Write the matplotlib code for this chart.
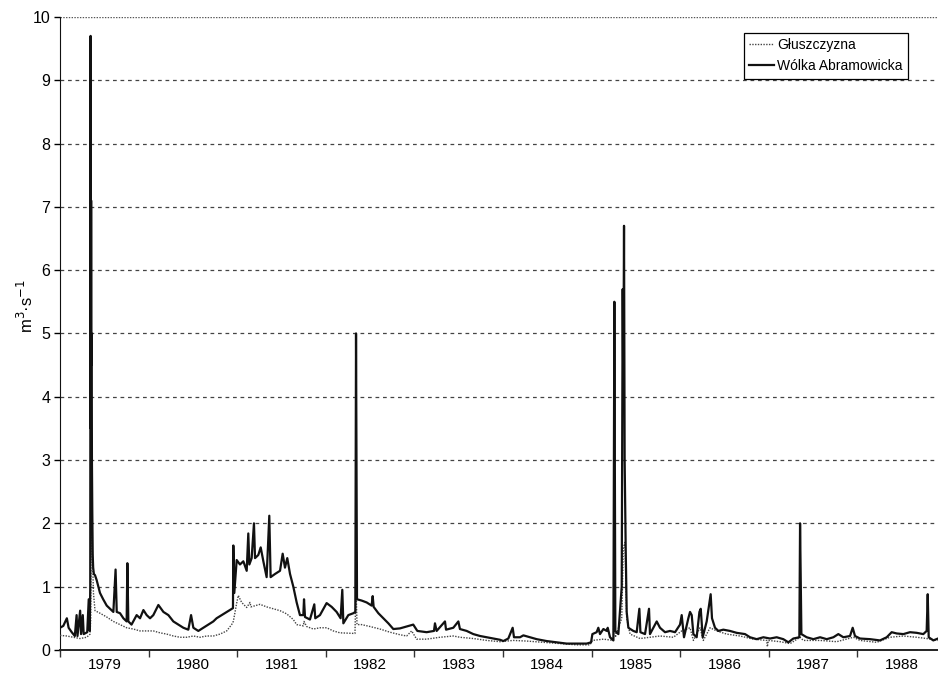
import matplotlib
matplotlib.use("Agg")
import matplotlib.pyplot as plt
import numpy as np

plt.rcParams['font.family'] = ['Liberation Sans', 'DejaVu Sans']

# time as decimal years (hydrological years start 1 Nov), discharge in m3/s
wolka_t = [1978.833, 1978.87, 1978.91, 1978.93, 1978.965, 1979.0, 1979.02, 1979.03,
           1979.06, 1979.07, 1979.09, 1979.10, 1979.14, 1979.157, 1979.168,
           1979.174, 1979.178, 1979.181, 1979.184, 1979.187, 1979.190, 1979.193,
           1979.197, 1979.202, 1979.207, 1979.215,
           1979.228, 1979.247, 1979.284, 1979.32, 1979.36, 1979.397, 1979.435,
           1979.46, 1979.473, 1979.51, 1979.548, 1979.585, 1979.593, 1979.604,
           1979.64, 1979.698, 1979.736, 1979.774, 1979.811, 1979.849, 1979.886,
           1979.943, 1980.0, 1980.056, 1980.112, 1980.169, 1980.225, 1980.281,
           1980.312, 1980.338, 1980.394, 1980.45, 1980.507, 1980.563, 1980.6,
           1980.657, 1980.714, 1980.75, 1980.785,
           1980.789, 1980.80, 1980.827, 1980.864, 1980.902, 1980.94, 1980.958,
           1980.97, 1980.996, 1981.022, 1981.034, 1981.071, 1981.098, 1981.128,
           1981.165, 1981.195, 1981.21, 1981.26, 1981.316, 1981.346, 1981.372,
           1981.398, 1981.429, 1981.466, 1981.504, 1981.541, 1981.579, 1981.587,
           1981.598, 1981.654, 1981.703, 1981.714, 1981.767, 1981.842, 1981.899,
           1981.955, 1982.0, 1982.019, 1982.031, 1982.087, 1982.144, 1982.166,
           1982.174, 1982.185, 1982.237, 1982.294, 1982.35, 1982.362, 1982.373,
           1982.426, 1982.482, 1982.539, 1982.595, 1982.67, 1982.745, 1982.82,
           1982.866, 1982.971, 1983.054, 1983.065, 1983.084, 1983.178, 1983.19,
           1983.272, 1983.329, 1983.347,
           1983.423, 1983.498, 1983.574, 1983.649, 1983.724, 1983.8, 1983.837,
           1983.893, 1983.942, 1983.957, 1984.025, 1984.063, 1984.138, 1984.213,
           1984.326, 1984.439, 1984.552, 1984.665, 1984.778, 1984.827, 1984.842,
           1984.89, 1984.909, 1984.928, 1984.966, 1985.004, 1985.015, 1985.041,
           1985.079, 1985.09, 1985.101, 1985.135, 1985.173, 1985.184, 1985.191,
           1985.199, 1985.206, 1985.218, 1985.229, 1985.248, 1985.304, 1985.342,
           1985.372, 1985.384, 1985.436, 1985.481, 1985.492, 1985.53, 1985.568,
           1985.605, 1985.662, 1985.718, 1985.775, 1985.831, 1985.85, 1985.876,
           1985.925, 1985.944, 1985.963, 1985.982, 1986.019, 1986.05, 1986.065,
           1986.087, 1986.132, 1986.177, 1986.192, 1986.226, 1986.264, 1986.32,
           1986.395, 1986.47, 1986.565, 1986.621, 1986.696, 1986.772, 1986.847,
           1986.922, 1986.997, 1987.054, 1987.11, 1987.178, 1987.186, 1987.201,
           1987.261, 1987.336, 1987.412, 1987.487, 1987.562, 1987.618, 1987.675,
           1987.75, 1987.78, 1987.806, 1987.863, 1987.976, 1988.088, 1988.164,
           1988.22, 1988.277, 1988.352, 1988.427, 1988.502, 1988.577, 1988.615,
           1988.627, 1988.638, 1988.69, 1988.743]
wolka_q = [0.35, 0.38, 0.5, 0.35, 0.28, 0.22, 0.55, 0.22,
           0.62, 0.25, 0.55, 0.25, 0.28, 0.8, 0.3,
           1.0, 9.7, 3.5, 7.1, 4.5, 5.0, 3.0,
           2.2, 1.5, 1.3, 1.2,
           1.18, 1.1, 0.9, 0.8, 0.7, 0.65, 0.6,
           1.27, 0.6, 0.58, 0.5, 0.45, 1.37, 0.45,
           0.4, 0.55, 0.5, 0.63, 0.55, 0.5, 0.55,
           0.71, 0.6, 0.55, 0.45, 0.4, 0.35, 0.32,
           0.55, 0.35, 0.3, 0.35, 0.4, 0.45, 0.5,
           0.55, 0.6, 0.63, 0.66,
           1.65, 0.9, 1.42, 1.35, 1.4, 1.25, 1.84,
           1.35, 1.45, 2.0, 1.45, 1.5, 1.62, 1.4,
           1.15, 2.12, 1.15, 1.2, 1.25, 1.52, 1.3,
           1.45, 1.2, 1.0, 0.75, 0.55, 0.55, 0.8,
           0.52, 0.48, 0.72, 0.5, 0.55, 0.74, 0.68,
           0.6, 0.5, 0.95, 0.42, 0.55, 0.58, 0.6,
           5.0, 0.8, 0.78, 0.75, 0.7, 0.85, 0.68,
           0.58, 0.5, 0.42, 0.33, 0.34, 0.37, 0.4,
           0.3, 0.28, 0.3, 0.42, 0.3, 0.45, 0.32,
           0.35, 0.45, 0.33,
           0.3, 0.25, 0.22, 0.2, 0.18, 0.16, 0.14,
           0.18, 0.35, 0.2, 0.2, 0.23, 0.2, 0.17,
           0.14, 0.12, 0.1, 0.1, 0.1, 0.12, 0.25,
           0.28, 0.35, 0.25, 0.33, 0.3, 0.35, 0.2,
           0.15, 5.5, 0.3, 0.25, 1.0, 5.7, 4.0,
           6.7, 3.0, 1.6, 0.6, 0.35, 0.3, 0.28,
           0.65, 0.28, 0.25, 0.65, 0.25, 0.35, 0.45,
           0.35, 0.28, 0.3, 0.28, 0.4, 0.55, 0.2,
           0.5, 0.6, 0.55, 0.25, 0.2, 0.6, 0.65,
           0.2, 0.45, 0.88, 0.5, 0.35, 0.3, 0.32,
           0.3, 0.27, 0.25, 0.2, 0.17, 0.2, 0.18,
           0.2, 0.17, 0.12, 0.18, 0.2, 2.0, 0.25,
           0.2, 0.17, 0.2, 0.17, 0.2, 0.25, 0.2,
           0.22, 0.35, 0.22, 0.18, 0.17, 0.15, 0.2,
           0.28, 0.26, 0.25, 0.28, 0.27, 0.25, 0.3,
           0.88, 0.2, 0.15, 0.18]

glusz_t = [1978.833, 1978.908, 1978.983, 1979.059, 1979.134, 1979.172, 1979.18,
           1979.186, 1979.195, 1979.21, 1979.228, 1979.284, 1979.36, 1979.435,
           1979.51, 1979.585, 1979.66, 1979.736, 1979.811, 1979.886, 1979.962,
           1980.037, 1980.112, 1980.187, 1980.263, 1980.338, 1980.413, 1980.488,
           1980.563, 1980.639, 1980.714, 1980.77, 1980.789, 1980.827, 1980.845,
           1980.883, 1980.94, 1980.977, 1980.988, 1981.09, 1981.165, 1981.24,
           1981.316, 1981.391, 1981.466, 1981.504, 1981.579, 1981.587, 1981.616,
           1981.692, 1981.767, 1981.842, 1981.918, 1981.993, 1982.162, 1982.174,
           1982.185, 1982.237, 1982.331, 1982.444, 1982.557, 1982.67, 1982.745,
           1982.802, 1982.858, 1982.971, 1983.122, 1983.272, 1983.347, 1983.498,
           1983.649, 1983.8, 1983.95, 1984.1, 1984.289, 1984.477, 1984.665,
           1984.815, 1984.842, 1984.966, 1985.079, 1985.09, 1985.101, 1985.173,
           1985.191, 1985.21, 1985.229, 1985.267, 1985.38, 1985.492, 1985.605,
           1985.756, 1985.85, 1985.944, 1985.982, 1986.057, 1986.094, 1986.17,
           1986.245, 1986.358, 1986.508, 1986.659, 1986.81, 1986.817, 1986.828,
           1986.96, 1987.073, 1987.186, 1987.223, 1987.412, 1987.6, 1987.788,
           1987.863, 1988.051, 1988.201, 1988.352, 1988.502, 1988.615, 1988.743]
glusz_q = [0.23, 0.22, 0.2, 0.18, 0.2, 0.25, 0.5,
           3.0, 1.7, 0.9, 0.62, 0.58, 0.52, 0.45,
           0.4, 0.35, 0.33, 0.3, 0.3, 0.3, 0.27,
           0.25, 0.22, 0.2, 0.2, 0.22, 0.2, 0.22,
           0.22, 0.25, 0.3, 0.4, 0.45, 0.74, 0.86,
           0.75, 0.67, 0.75, 0.68, 0.72, 0.68, 0.65,
           0.62, 0.57, 0.48, 0.4, 0.38, 0.45, 0.37,
           0.33, 0.35, 0.35, 0.3, 0.27, 0.26, 1.0,
           0.4, 0.4, 0.37, 0.33, 0.28, 0.24, 0.22,
           0.3, 0.17, 0.17, 0.2, 0.22, 0.2, 0.18,
           0.15, 0.13, 0.15, 0.14, 0.12, 0.1, 0.08,
           0.08, 0.15, 0.17, 0.15, 1.0, 0.2, 0.5,
           1.6, 1.7, 0.5, 0.25, 0.18, 0.2, 0.22,
           0.2, 0.3, 0.35, 0.15, 0.35, 0.15, 0.35,
           0.3, 0.25, 0.22, 0.17, 0.15, 0.05, 0.15,
           0.13, 0.1, 0.2, 0.15, 0.15, 0.13, 0.2,
           0.15, 0.12, 0.2, 0.22, 0.2, 0.18, 0.15]

years = list(range(1979, 1989))
year_bounds = [y - 0.167 for y in range(1979, 1989)]   # 1 Nov of previous year
year_mids = [y + 0.333 for y in years]

fig = plt.figure(figsize=(9.38, 6.77), dpi=100)
ax = fig.add_axes([0.064, 0.040, 0.936, 0.935])

ax.plot(glusz_t, glusz_q, color='#444444', lw=1.0, ls=(0, (1, 1)), label='Głuszczyzna', zorder=3)
ax.plot(wolka_t, wolka_q, color='#111111', lw=1.6, label='Wólka Abramowicka', zorder=4)

ax.set_xlim(1978.833, 1988.743)
ax.set_ylim(0, 10)
ax.set_yticks(range(0, 11))
ax.yaxis.grid(True, ls=(0, (3, 3)), color='#444444', lw=0.9)
ax.yaxis.get_gridlines()[-1].set_visible(False)
ax.yaxis.get_gridlines()[0].set_visible(False)
ax.set_axisbelow(True)

ax.set_xticks(year_bounds)
ax.set_xticklabels([])
ax.set_xticks(year_mids, minor=True)
ax.set_xticklabels([str(y) for y in years], minor=True)
ax.tick_params(axis='x', which='major', direction='out', length=5, width=1, color='#333333')
ax.tick_params(axis='x', which='minor', length=0, pad=6, labelsize=11)
ax.tick_params(axis='y', direction='out', length=4, width=1, labelsize=11.5, pad=3)

for side in ['top', 'right']:
    ax.spines[side].set_visible(False)
ax.spines['left'].set_color('#111111')
ax.spines['bottom'].set_color('#222222')
ax.spines['bottom'].set_linewidth(1.4)
ax.axhline(10, color='#555555', lw=1.0, ls=(0, (1, 1)), zorder=1)

ax.set_ylabel(r'm$^3$·s$^{-1}$', fontsize=12)
ax.yaxis.set_label_coords(-0.027, 0.543)

leg = ax.legend(loc='upper right', bbox_to_anchor=(0.966, 0.975), borderaxespad=0,
                fancybox=False, edgecolor='black', framealpha=1, fontsize=10,
                handlelength=1.8, handletextpad=0.2, borderpad=0.4, labelspacing=0.5)
leg.get_frame().set_linewidth(0.9)

fig.savefig('out.png', dpi=100)
